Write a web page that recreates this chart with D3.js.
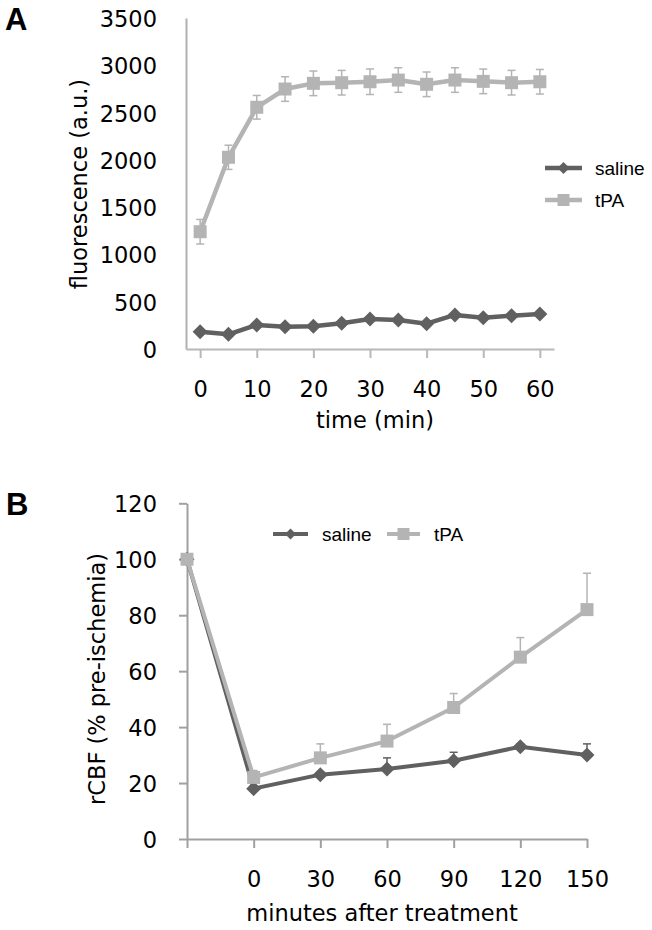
<!DOCTYPE html>
<html>
<head>
<meta charset="utf-8">
<script src="https://cdn.jsdelivr.net/npm/d3@7"></script>
<style>
  body { margin: 0; background: #fff; }
  svg { display: block; }
  .tick text, .title { font-family: "DejaVu Sans", Verdana, sans-serif; font-size: 22.5px; fill: #000; }
  .legend text { font-family: "Liberation Sans", Arial, sans-serif; font-size: 19px; fill: #000; }
  .panel { font-family: "Liberation Sans", Arial, sans-serif; font-size: 31px; font-weight: bold; }
</style>
</head>
<body>
<script>
// panel A: fluorescence over time
var timesA = [0, 5, 10, 15, 20, 25, 30, 35, 40, 45, 50, 55, 60],
    timeTicksA = [0, 10, 20, 30, 40, 50, 60],
    salineA = [183, 155, 254, 236, 240, 272, 317, 307, 268, 360, 331, 352, 370],
    tpaA = [1240, 2027, 2556, 2749, 2809, 2816, 2826, 2844, 2799, 2844, 2830, 2816, 2826],
    tpaErrA = [130, 128, 125, 130, 130, 130, 135, 130, 130, 130, 130, 130, 130],
    yTicksA = [0, 500, 1000, 1500, 2000, 2500, 3000, 3500];

// panel B: rCBF after treatment ("pre" is the pre-ischemia point, no label)
var catsB = ['pre', '0', '30', '60', '90', '120', '150'],
    salineB = [100, 18, 23, 25, 28, 33, 30],
    salineErrB = [0, 1, 1, 4, 3, 1, 4],
    tpaB = [100, 22, 29, 35, 47, 65, 82],
    tpaErrB = [0, 2.5, 5, 6, 5, 7, 13],
    yTicksB = [0, 20, 40, 60, 80, 100, 120];

var darkGrey = '#606060',
    lightGrey = '#b4b4b4';

var svg = d3.select('body').append('svg')
    .attr('width', 652)
    .attr('height', 930);

function diamond(r) {
    return 'M0,' + (-r) + 'L' + r + ',0L0,' + r + 'L' + (-r) + ',0Z';
}

function square(r) {
    return 'M' + (-r) + ',' + (-r) + 'h' + (2 * r) + 'v' + (2 * r) + 'h' + (-2 * r) + 'Z';
}

function styleAxis(g, colour) {
    g.select('.domain').attr('stroke', colour).attr('stroke-width', 2);
    g.selectAll('.tick line').attr('stroke', colour).attr('stroke-width', 2);
    g.selectAll('.tick text').attr('fill', '#000');
    g.attr('font-size', null).attr('font-family', null);
}

// draws one series: error bars, line, markers
function series(x, y, keys, values, errs, opts) {
    var g = svg.append('g');
    var pts = keys.map(function (k, i) {
        return { x: x(k), y: y(values[i]), yTop: y(values[i] + (errs ? errs[i] : 0)),
                 yBot: y(values[i] - (opts.both && errs ? errs[i] : 0)) };
    });

    if (errs) {
        var eb = g.selectAll('.err').data(pts.filter(function (p, i) { return errs[i] > 0; }))
            .enter().append('g')
            .attr('stroke', opts.errColour || opts.colour)
            .attr('stroke-width', 1.5);
        eb.append('line')
            .attr('x1', function (d) { return d.x; })
            .attr('x2', function (d) { return d.x; })
            .attr('y1', function (d) { return d.yTop; })
            .attr('y2', function (d) { return d.yBot; });
        eb.append('line')
            .attr('x1', function (d) { return d.x - 4; })
            .attr('x2', function (d) { return d.x + 4; })
            .attr('y1', function (d) { return d.yTop; })
            .attr('y2', function (d) { return d.yTop; });
        if (opts.both) {
            eb.append('line')
                .attr('x1', function (d) { return d.x - 4; })
                .attr('x2', function (d) { return d.x + 4; })
                .attr('y1', function (d) { return d.yBot; })
                .attr('y2', function (d) { return d.yBot; });
        }
    }

    g.append('path')
        .datum(pts)
        .attr('fill', 'none')
        .attr('stroke', opts.colour)
        .attr('stroke-width', opts.width)
        .attr('stroke-linejoin', 'round')
        .attr('d', d3.line().x(function (d) { return d.x; }).y(function (d) { return d.y; }));

    g.selectAll('.mark').data(pts).enter().append('path')
        .attr('fill', opts.colour)
        .attr('transform', function (d) { return 'translate(' + d.x + ',' + d.y + ')'; })
        .attr('d', opts.marker);
}

function legendItem(x1, x2, y, textX, label, colour, marker, width) {
    var g = svg.append('g').attr('class', 'legend');
    g.append('line')
        .attr('x1', x1).attr('x2', x2).attr('y1', y).attr('y2', y)
        .attr('stroke', colour).attr('stroke-width', width);
    g.append('path')
        .attr('fill', colour)
        .attr('transform', 'translate(' + ((x1 + x2) / 2) + ',' + y + ')')
        .attr('d', marker);
    g.append('text')
        .attr('x', textX).attr('y', y).attr('dy', '0.36em')
        .text(label);
}

// ---------- panel A ----------
var xA = d3.scalePoint().domain(timesA).range([186, 554]).padding(0.5),
    yA = d3.scaleLinear().domain([0, 3500]).range([349, 18]);

svg.append('g')
    .attr('transform', 'translate(186,0)')
    .call(d3.axisLeft(yA).tickValues(yTicksA).tickFormat(d3.format('d'))
        .tickSize(0).tickPadding(29))
    .call(styleAxis, '#b0b0b0')
    .selectAll('.tick text').attr('dy', '0.38em');

svg.append('g')
    .attr('transform', 'translate(0,349)')
    .call(d3.axisBottom(xA).tickValues(timeTicksA).tickSize(9).tickPadding(23).tickSizeOuter(0))
    .call(styleAxis, '#b8b8b8');

series(xA, yA, timesA, tpaA, tpaErrA, { colour: lightGrey, width: 4.5, marker: square(6.5), both: true });
series(xA, yA, timesA, salineA, null, { colour: darkGrey, width: 4.5, marker: diamond(7.5) });

legendItem(545, 582, 168, 595, 'saline', darkGrey, diamond(6), 4.5);
legendItem(545, 582, 200, 595, 'tPA', lightGrey, square(6), 4.5);

svg.append('text').attr('class', 'title')
    .attr('text-anchor', 'middle')
    .attr('transform', 'translate(87,184) rotate(-90)')
    .text('fluorescence (a.u.)');

svg.append('text').attr('class', 'title')
    .attr('text-anchor', 'middle')
    .attr('x', 375).attr('y', 428)
    .text('time (min)');

svg.append('text').attr('class', 'panel').attr('x', 5).attr('y', 30).text('A');

// ---------- panel B ----------
var xB = d3.scalePoint().domain(catsB).range([187, 587]),
    yB = d3.scaleLinear().domain([0, 120]).range([839, 503.3]);

svg.append('g')
    .attr('transform', 'translate(187,0)')
    .call(d3.axisLeft(yB).tickValues(yTicksB).tickSize(8).tickPadding(22).tickSizeOuter(0))
    .call(styleAxis, '#a0a0a0')
    .selectAll('.tick text').attr('dy', '0.38em');

svg.append('g')
    .attr('transform', 'translate(0,839)')
    .call(d3.axisBottom(xB).tickSize(9).tickPadding(23).tickSizeOuter(0)
        .tickFormat(function (d) { return d === 'pre' ? '' : d; }))
    .call(styleAxis, '#a0a0a0');

series(xB, yB, catsB, salineB, salineErrB, { colour: darkGrey, width: 4, marker: diamond(7.5) });
series(xB, yB, catsB, tpaB, tpaErrB, { colour: lightGrey, width: 4, marker: square(6.5) });

legendItem(273, 308, 534, 322, 'saline', darkGrey, diamond(5.5), 4);
legendItem(387, 420, 534, 434, 'tPA', lightGrey, square(6), 4);

svg.append('text').attr('class', 'title')
    .attr('text-anchor', 'middle')
    .attr('transform', 'translate(105,679) rotate(-90)')
    .text('rCBF (% pre-ischemia)');

svg.append('text').attr('class', 'title')
    .attr('text-anchor', 'middle')
    .attr('x', 382).attr('y', 921)
    .text('minutes after treatment');

svg.append('text').attr('class', 'panel').attr('x', 6).attr('y', 515).text('B');
</script>
</body>
</html>
